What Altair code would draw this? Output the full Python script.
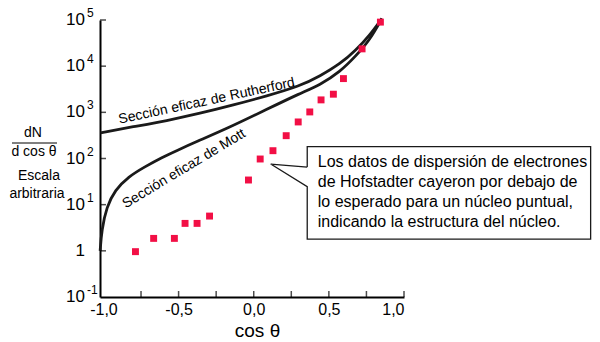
import altair as alt
import pandas as pd

FONT = "Liberation Sans"

# Hofstadter data points (cos theta, dN/dcos theta, arbitrary scale)
pts_c = [-0.787, -0.666, -0.528, -0.457, -0.377, -0.294, -0.035, 0.043, 0.128,
         0.216, 0.296, 0.373, 0.448, 0.530, 0.597, 0.721, 0.843]
pts_v = [0.96, 1.86, 1.86, 3.93, 3.93, 5.66, 34.2, 97.5, 147.6,
         312, 619, 1020, 1860, 2470, 5380, 23700, 90000]

# Rutherford cross-section curve
ruth_c = [-1.02, -0.802, -0.579, -0.358, -0.136, 0.086, 0.308, 0.441, 0.574, 0.680, 0.773, 0.853]
ruth_v = [360, 488, 658, 948, 1439, 2254, 3707, 6109, 11120, 22340, 47210, 108000]

# Mott cross-section curve
mott_c = [-1.022, -1.012, -0.979, -0.923, -0.835, -0.724, -0.613, -0.513, -0.391,
          -0.170, 0.086, 0.308, 0.441, 0.574, 0.680, 0.773, 0.853]
mott_v = [1.0, 2.8, 9.0, 20.7, 40.3, 66.4, 105, 148, 224,
          457, 1160, 2578, 3926, 7516, 16690, 37070, 108000]

# y tick labels
ytick_vals = [1e5, 1e4, 1e3, 1e2, 1e1, 1, 0.1]
ytick_main = ["10", "10", "10", "10", "10", "1", "10"]
ytick_exp = ["5", "4", "3", "2", "1", "", "-1"]
xtick_vals = [-0.75, -0.5, -0.25, 0.0, 0.25, 0.5, 0.75, 1.0]

# curve labels
lab_text = ["Sección eficaz de Rutherford", "Sección eficaz de Mott"]
lab_c = [-0.313, -0.464]
lab_v = [1750, 60]
lab_angle = [348, 329]

# callout outline
box_c = [0.356, 0.356, 2.242, 2.242, 0.356, 0.356, 0.113, 0.356]
box_v = [65.3, 180, 180, 1.80, 1.80, 24.5, 75.9, 65.3]
callout_lines = [
    "Los datos de dispersión de electrones",
    "de Hofstadter cayeron por debajo de",
    "lo esperado para un núcleo puntual,",
    "indicando la estructura del núcleo.",
]
callout_c = [0.426] * 4
callout_v = [85.1, 31.4, 11.56, 4.27]

xs = alt.Scale(domain=[-1.023, 1.0], nice=False, zero=False)
ys = alt.Scale(type="log", domain=[0.1, 1e5], nice=False)

X = alt.X(
    "c:Q", scale=xs, title="cos θ",
    axis=alt.Axis(
        values=[-1, -0.5, 0, 0.5, 1],
        labelExpr="replace(replace(format(datum.value, '.1f'), '.', ','), '−', '-')",
        labelFont=FONT, labelFontSize=16, labelColor="black", labelPadding=4,
        titleFont=FONT, titleFontSize=19, titleFontWeight="normal", titleColor="black",
        titlePadding=4, titleX=157,
        ticks=False, grid=False, domainColor="black", domainWidth=2,
    ),
)
Y = alt.Y(
    "v:Q", scale=ys, title=None,
    axis=alt.Axis(labels=False, ticks=False, grid=False, domainColor="black", domainWidth=2),
)

ruth = alt.Chart(pd.DataFrame({"c": ruth_c, "v": ruth_v})).mark_line(
    color="#1a1a1a", strokeWidth=2.8, interpolate="basis"
).encode(x=X, y=Y)

mott = alt.Chart(pd.DataFrame({"c": mott_c, "v": mott_v})).mark_line(
    color="#1a1a1a", strokeWidth=2.8, interpolate="basis"
).encode(x=X, y=Y)

pts = alt.Chart(pd.DataFrame({"c": pts_c, "v": pts_v})).mark_square(
    color="#f20f45", size=48, opacity=1
).encode(x=X, y=Y)

labels = alt.Chart(pd.DataFrame({"c": lab_c, "v": lab_v, "t": lab_text, "a": lab_angle})).mark_text(
    font=FONT, fontSize=14, color="black", align="center", baseline="middle"
).encode(x=X, y=Y, text="t:N", angle=alt.Angle("a:Q", scale=None))

box = alt.Chart(pd.DataFrame({"c": box_c, "v": box_v, "o": list(range(len(box_c)))})).mark_line(
    color="#1a1a1a", strokeWidth=1.3, clip=False
).encode(x=X, y=Y, order="o:Q")

callout = alt.Chart(pd.DataFrame({"c": callout_c, "v": callout_v, "t": callout_lines})).mark_text(
    font=FONT, fontSize=16, color="black", align="left", baseline="middle"
).encode(x=X, y=Y, text="t:N")

xticks = alt.Chart(pd.DataFrame({"c": xtick_vals})).mark_tick(
    color="black", thickness=1.5, size=6
).encode(x=X, y=alt.value(274))

yt_df = pd.DataFrame({"v": ytick_vals[:-1]})
yticks = alt.Chart(yt_df).mark_tick(
    color="black", thickness=1.5, size=6
).encode(y=Y, x=alt.value(3))

ylab_df = pd.DataFrame({"v": ytick_vals, "m": ytick_main, "e": ytick_exp})
ylab_main = alt.Chart(ylab_df).mark_text(
    font=FONT, fontSize=17, color="black", align="right", baseline="middle"
).encode(y=Y, x=alt.value(-15), text="m:N")
ylab_exp = alt.Chart(ylab_df).mark_text(
    font=FONT, fontSize=12, color="black", align="left", baseline="middle", dy=-7
).encode(y=Y, x=alt.value(-13), text="e:N")

# left title block
lt_df = pd.DataFrame({
    "t": ["dN", "d cos θ", "Escala", "arbitraria"],
    "px": [-67, -66, -61, -63],
    "py": [113, 132, 156, 174],
})
left_title = alt.Chart(lt_df).mark_text(
    font=FONT, fontSize=14, color="black", align="center", baseline="middle"
).encode(x=alt.X("px:Q", scale=None), y=alt.Y("py:Q", scale=None), text="t:N")
frac = alt.Chart(pd.DataFrame({"a": [0]})).mark_rule(color="black", strokeWidth=1).encode(
    x=alt.value(-88), x2=alt.value(-43), y=alt.value(123)
)

chart = alt.layer(
    ruth, mott, box, callout, labels, pts, xticks, yticks, ylab_main, ylab_exp, left_title, frac
).properties(
    width=304, height=277,
    autosize=alt.AutoSizeParams(type="none"),
    padding={"left": 100, "top": 20, "right": 196, "bottom": 45},
    background="white",
).configure_view(strokeWidth=0)

chart.save("out.html", embed_options={"renderer": "svg", "actions": False})
